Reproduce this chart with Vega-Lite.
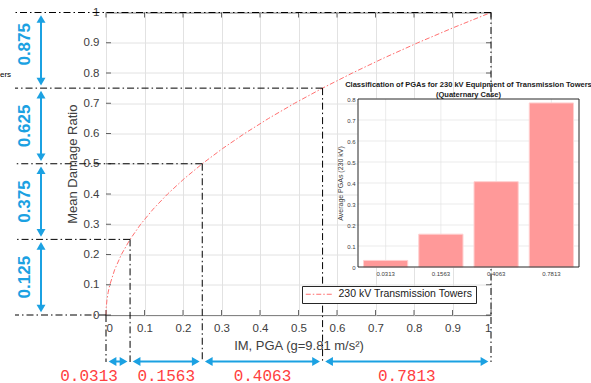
{
  "$schema": "https://vega.github.io/schema/vega-lite/v6.json",
  "width": 385,
  "height": 302.5,
  "autosize": {"type": "none"},
  "padding": {"left": 106, "top": 12.5, "right": 100, "bottom": 68},
  "background": "white",
  "config": {
    "font": "Liberation Sans",
    "view": {"stroke": "#262626", "strokeWidth": 1}
  },
  "datasets": {
    "curve": [
      {"pga": 0, "dr": 0}, {"pga": 0.000625, "dr": 0.025}, {"pga": 0.0025, "dr": 0.05}, {"pga": 0.005625, "dr": 0.075},
      {"pga": 0.01, "dr": 0.1}, {"pga": 0.0225, "dr": 0.15}, {"pga": 0.04, "dr": 0.2}, {"pga": 0.0625, "dr": 0.25},
      {"pga": 0.09, "dr": 0.3}, {"pga": 0.1225, "dr": 0.35}, {"pga": 0.16, "dr": 0.4}, {"pga": 0.2025, "dr": 0.45},
      {"pga": 0.25, "dr": 0.5}, {"pga": 0.3025, "dr": 0.55}, {"pga": 0.36, "dr": 0.6}, {"pga": 0.4225, "dr": 0.65},
      {"pga": 0.49, "dr": 0.7}, {"pga": 0.5625, "dr": 0.75}, {"pga": 0.64, "dr": 0.8}, {"pga": 0.7225, "dr": 0.85},
      {"pga": 0.81, "dr": 0.9}, {"pga": 0.9025, "dr": 0.95}, {"pga": 1, "dr": 1}
    ],
    "tickvals": [
      {"t": 0}, {"t": 0.1}, {"t": 0.2}, {"t": 0.3}, {"t": 0.4}, {"t": 0.5},
      {"t": 0.6}, {"t": 0.7}, {"t": 0.8}, {"t": 0.9}, {"t": 1}
    ],
    "drClasses": [
      {"lo": 0, "hi": 0.25, "mid": 0.125},
      {"lo": 0.25, "hi": 0.5, "mid": 0.375},
      {"lo": 0.5, "hi": 0.75, "mid": 0.625},
      {"lo": 0.75, "hi": 1, "mid": 0.875}
    ],
    "pgaClasses": [
      {"lo": 0, "hi": 0.0625, "mid": 0.0313},
      {"lo": 0.0625, "hi": 0.25, "mid": 0.1563},
      {"lo": 0.25, "hi": 0.5625, "mid": 0.4063},
      {"lo": 0.5625, "hi": 1, "mid": 0.7813}
    ],
    "classBounds": [
      {"pga": 0, "dr": 0}, {"pga": 0.0625, "dr": 0.25}, {"pga": 0.25, "dr": 0.5},
      {"pga": 0.5625, "dr": 0.75}, {"pga": 1, "dr": 1}
    ],
    "single": [{"n": 1}]
  },
  "layer": [
    {
      "layer": [
        {
          "data": {"name": "curve"},
          "mark": {"type": "line", "strokeDash": [5, 2, 1.5, 2], "strokeWidth": 1},
          "encoding": {
            "x": {"field": "pga", "type": "quantitative", "scale": {"domain": [0, 1], "nice": false, "zero": false},
              "axis": {"values": [0, 0.1, 0.2, 0.3, 0.4, 0.5, 0.6, 0.7, 0.8, 0.9, 1], "format": "~g", "grid": true, "gridColor": "#e2e2e2",
                "domain": false, "ticks": false, "labelPadding": 7, "labelFontSize": 11.5, "labelColor": "#404040", "labelOverlap": false,
                "title": "IM, PGA (g=9.81 m/s²)", "titleFontSize": 13, "titleFontWeight": "normal", "titleColor": "#404040", "titlePadding": 6}},
            "y": {"field": "dr", "type": "quantitative", "scale": {"domain": [0, 1], "nice": false, "zero": false},
              "axis": {"values": [0, 0.1, 0.2, 0.3, 0.4, 0.5, 0.6, 0.7, 0.8, 0.9, 1], "format": "~g", "grid": true, "gridColor": "#e2e2e2",
                "domain": false, "ticks": false, "labelPadding": 7, "labelFontSize": 11.5, "labelColor": "#404040", "labelOverlap": false,
                "title": "Mean Damage Ratio", "titleFontSize": 13, "titleFontWeight": "normal", "titleColor": "#404040", "titlePadding": 4}},
            "stroke": {"datum": "230 kV Transmission Towers", "type": "nominal", "scale": {"range": ["#ff7070"]},
              "legend": {"title": null, "orient": "none", "legendX": 196, "legendY": 273.5, "fillColor": "white", "strokeColor": "#262626",
                "padding": 3, "symbolType": "M-1,0H5", "symbolSize": 81, "symbolStrokeWidth": 1, "symbolDash": [5, 2, 1.5, 2],
                "labelFontSize": 10.5, "labelColor": "#1a1a1a", "labelOffset": 23, "labelFont": "Liberation Sans"}}
          }
        },
        {
          "data": {"name": "tickvals"},
          "mark": {"type": "tick", "orient": "vertical", "size": 5, "thickness": 1, "color": "#262626", "yOffset": -2.5},
          "encoding": {
            "x": {"field": "t", "type": "quantitative", "scale": {"domain": [0, 1], "nice": false, "zero": false},
              "axis": {"values": [0, 0.1, 0.2, 0.3, 0.4, 0.5, 0.6, 0.7, 0.8, 0.9, 1], "format": "~g", "grid": true, "gridColor": "#e2e2e2",
                "domain": false, "ticks": false, "labelPadding": 7, "labelFontSize": 11.5, "labelColor": "#404040", "labelOverlap": false,
                "title": "IM, PGA (g=9.81 m/s²)", "titleFontSize": 13, "titleFontWeight": "normal", "titleColor": "#404040", "titlePadding": 6}},
            "y": {"datum": 0, "type": "quantitative", "scale": {"domain": [0, 1], "nice": false, "zero": false},
              "axis": {"values": [0, 0.1, 0.2, 0.3, 0.4, 0.5, 0.6, 0.7, 0.8, 0.9, 1], "format": "~g", "grid": true, "gridColor": "#e2e2e2",
                "domain": false, "ticks": false, "labelPadding": 7, "labelFontSize": 11.5, "labelColor": "#404040", "labelOverlap": false,
                "title": "Mean Damage Ratio", "titleFontSize": 13, "titleFontWeight": "normal", "titleColor": "#404040", "titlePadding": 4}}
          }
        },
        {
          "data": {"name": "tickvals"},
          "mark": {"type": "tick", "orient": "vertical", "size": 5, "thickness": 1, "color": "#262626", "yOffset": 2.5},
          "encoding": {
            "x": {"field": "t", "type": "quantitative", "scale": {"domain": [0, 1], "nice": false, "zero": false},
              "axis": {"values": [0, 0.1, 0.2, 0.3, 0.4, 0.5, 0.6, 0.7, 0.8, 0.9, 1], "format": "~g", "grid": true, "gridColor": "#e2e2e2",
                "domain": false, "ticks": false, "labelPadding": 7, "labelFontSize": 11.5, "labelColor": "#404040", "labelOverlap": false,
                "title": "IM, PGA (g=9.81 m/s²)", "titleFontSize": 13, "titleFontWeight": "normal", "titleColor": "#404040", "titlePadding": 6}},
            "y": {"datum": 1, "type": "quantitative", "scale": {"domain": [0, 1], "nice": false, "zero": false},
              "axis": {"values": [0, 0.1, 0.2, 0.3, 0.4, 0.5, 0.6, 0.7, 0.8, 0.9, 1], "format": "~g", "grid": true, "gridColor": "#e2e2e2",
                "domain": false, "ticks": false, "labelPadding": 7, "labelFontSize": 11.5, "labelColor": "#404040", "labelOverlap": false,
                "title": "Mean Damage Ratio", "titleFontSize": 13, "titleFontWeight": "normal", "titleColor": "#404040", "titlePadding": 4}}
          }
        },
        {
          "data": {"name": "tickvals"},
          "mark": {"type": "tick", "orient": "horizontal", "size": 5, "thickness": 1, "color": "#262626", "xOffset": 2.5},
          "encoding": {
            "y": {"field": "t", "type": "quantitative", "scale": {"domain": [0, 1], "nice": false, "zero": false},
              "axis": {"values": [0, 0.1, 0.2, 0.3, 0.4, 0.5, 0.6, 0.7, 0.8, 0.9, 1], "format": "~g", "grid": true, "gridColor": "#e2e2e2",
                "domain": false, "ticks": false, "labelPadding": 7, "labelFontSize": 11.5, "labelColor": "#404040", "labelOverlap": false,
                "title": "Mean Damage Ratio", "titleFontSize": 13, "titleFontWeight": "normal", "titleColor": "#404040", "titlePadding": 4}},
            "x": {"datum": 0, "type": "quantitative", "scale": {"domain": [0, 1], "nice": false, "zero": false},
              "axis": {"values": [0, 0.1, 0.2, 0.3, 0.4, 0.5, 0.6, 0.7, 0.8, 0.9, 1], "format": "~g", "grid": true, "gridColor": "#e2e2e2",
                "domain": false, "ticks": false, "labelPadding": 7, "labelFontSize": 11.5, "labelColor": "#404040", "labelOverlap": false,
                "title": "IM, PGA (g=9.81 m/s²)", "titleFontSize": 13, "titleFontWeight": "normal", "titleColor": "#404040", "titlePadding": 6}}
          }
        },
        {
          "data": {"name": "tickvals"},
          "mark": {"type": "tick", "orient": "horizontal", "size": 5, "thickness": 1, "color": "#262626", "xOffset": -2.5},
          "encoding": {
            "y": {"field": "t", "type": "quantitative", "scale": {"domain": [0, 1], "nice": false, "zero": false},
              "axis": {"values": [0, 0.1, 0.2, 0.3, 0.4, 0.5, 0.6, 0.7, 0.8, 0.9, 1], "format": "~g", "grid": true, "gridColor": "#e2e2e2",
                "domain": false, "ticks": false, "labelPadding": 7, "labelFontSize": 11.5, "labelColor": "#404040", "labelOverlap": false,
                "title": "Mean Damage Ratio", "titleFontSize": 13, "titleFontWeight": "normal", "titleColor": "#404040", "titlePadding": 4}},
            "x": {"datum": 1, "type": "quantitative", "scale": {"domain": [0, 1], "nice": false, "zero": false},
              "axis": {"values": [0, 0.1, 0.2, 0.3, 0.4, 0.5, 0.6, 0.7, 0.8, 0.9, 1], "format": "~g", "grid": true, "gridColor": "#e2e2e2",
                "domain": false, "ticks": false, "labelPadding": 7, "labelFontSize": 11.5, "labelColor": "#404040", "labelOverlap": false,
                "title": "IM, PGA (g=9.81 m/s²)", "titleFontSize": 13, "titleFontWeight": "normal", "titleColor": "#404040", "titlePadding": 6}}
          }
        },
        {
          "data": {"name": "classBounds"},
          "mark": {"type": "rule", "stroke": "#000000", "strokeWidth": 1, "strokeDash": [7, 3, 1.5, 3]},
          "encoding": {
            "x": {"field": "pga", "type": "quantitative", "scale": {"domain": [0, 1], "nice": false, "zero": false},
              "axis": {"values": [0, 0.1, 0.2, 0.3, 0.4, 0.5, 0.6, 0.7, 0.8, 0.9, 1], "format": "~g", "grid": true, "gridColor": "#e2e2e2",
                "domain": false, "ticks": false, "labelPadding": 7, "labelFontSize": 11.5, "labelColor": "#404040", "labelOverlap": false,
                "title": "IM, PGA (g=9.81 m/s²)", "titleFontSize": 13, "titleFontWeight": "normal", "titleColor": "#404040", "titlePadding": 6}},
            "x2": {"datum": -0.2364},
            "y": {"field": "dr", "type": "quantitative", "scale": {"domain": [0, 1], "nice": false, "zero": false},
              "axis": {"values": [0, 0.1, 0.2, 0.3, 0.4, 0.5, 0.6, 0.7, 0.8, 0.9, 1], "format": "~g", "grid": true, "gridColor": "#e2e2e2",
                "domain": false, "ticks": false, "labelPadding": 7, "labelFontSize": 11.5, "labelColor": "#404040", "labelOverlap": false,
                "title": "Mean Damage Ratio", "titleFontSize": 13, "titleFontWeight": "normal", "titleColor": "#404040", "titlePadding": 4}}
          }
        },
        {
          "data": {"name": "classBounds"},
          "mark": {"type": "rule", "stroke": "#000000", "strokeWidth": 1, "strokeDash": [7, 3, 1.5, 3]},
          "encoding": {
            "x": {"field": "pga", "type": "quantitative", "scale": {"domain": [0, 1], "nice": false, "zero": false},
              "axis": {"values": [0, 0.1, 0.2, 0.3, 0.4, 0.5, 0.6, 0.7, 0.8, 0.9, 1], "format": "~g", "grid": true, "gridColor": "#e2e2e2",
                "domain": false, "ticks": false, "labelPadding": 7, "labelFontSize": 11.5, "labelColor": "#404040", "labelOverlap": false,
                "title": "IM, PGA (g=9.81 m/s²)", "titleFontSize": 13, "titleFontWeight": "normal", "titleColor": "#404040", "titlePadding": 6}},
            "y": {"field": "dr", "type": "quantitative", "scale": {"domain": [0, 1], "nice": false, "zero": false},
              "axis": {"values": [0, 0.1, 0.2, 0.3, 0.4, 0.5, 0.6, 0.7, 0.8, 0.9, 1], "format": "~g", "grid": true, "gridColor": "#e2e2e2",
                "domain": false, "ticks": false, "labelPadding": 7, "labelFontSize": 11.5, "labelColor": "#404040", "labelOverlap": false,
                "title": "Mean Damage Ratio", "titleFontSize": 13, "titleFontWeight": "normal", "titleColor": "#404040", "titlePadding": 4}},
            "y2": {"datum": -0.1554}
          }
        },
        {
          "data": {"name": "drClasses"},
          "mark": {"type": "rule", "stroke": "#1ba1e2", "strokeWidth": 2, "yOffset": -5, "y2Offset": 5},
          "encoding": {
            "x": {"datum": -0.1688, "type": "quantitative", "scale": {"domain": [0, 1], "nice": false, "zero": false},
              "axis": {"values": [0, 0.1, 0.2, 0.3, 0.4, 0.5, 0.6, 0.7, 0.8, 0.9, 1], "format": "~g", "grid": true, "gridColor": "#e2e2e2",
                "domain": false, "ticks": false, "labelPadding": 7, "labelFontSize": 11.5, "labelColor": "#404040", "labelOverlap": false,
                "title": "IM, PGA (g=9.81 m/s²)", "titleFontSize": 13, "titleFontWeight": "normal", "titleColor": "#404040", "titlePadding": 6}},
            "y": {"field": "lo", "type": "quantitative", "scale": {"domain": [0, 1], "nice": false, "zero": false},
              "axis": {"values": [0, 0.1, 0.2, 0.3, 0.4, 0.5, 0.6, 0.7, 0.8, 0.9, 1], "format": "~g", "grid": true, "gridColor": "#e2e2e2",
                "domain": false, "ticks": false, "labelPadding": 7, "labelFontSize": 11.5, "labelColor": "#404040", "labelOverlap": false,
                "title": "Mean Damage Ratio", "titleFontSize": 13, "titleFontWeight": "normal", "titleColor": "#404040", "titlePadding": 4}},
            "y2": {"field": "hi"}
          }
        },
        {
          "data": {"name": "drClasses"},
          "mark": {"type": "point", "shape": "triangle-up", "filled": true, "size": 80, "fill": "#1ba1e2", "opacity": 1, "strokeWidth": 0, "yOffset": 6.5},
          "encoding": {
            "x": {"datum": -0.1688, "type": "quantitative", "scale": {"domain": [0, 1], "nice": false, "zero": false},
              "axis": {"values": [0, 0.1, 0.2, 0.3, 0.4, 0.5, 0.6, 0.7, 0.8, 0.9, 1], "format": "~g", "grid": true, "gridColor": "#e2e2e2",
                "domain": false, "ticks": false, "labelPadding": 7, "labelFontSize": 11.5, "labelColor": "#404040", "labelOverlap": false,
                "title": "IM, PGA (g=9.81 m/s²)", "titleFontSize": 13, "titleFontWeight": "normal", "titleColor": "#404040", "titlePadding": 6}},
            "y": {"field": "hi", "type": "quantitative", "scale": {"domain": [0, 1], "nice": false, "zero": false},
              "axis": {"values": [0, 0.1, 0.2, 0.3, 0.4, 0.5, 0.6, 0.7, 0.8, 0.9, 1], "format": "~g", "grid": true, "gridColor": "#e2e2e2",
                "domain": false, "ticks": false, "labelPadding": 7, "labelFontSize": 11.5, "labelColor": "#404040", "labelOverlap": false,
                "title": "Mean Damage Ratio", "titleFontSize": 13, "titleFontWeight": "normal", "titleColor": "#404040", "titlePadding": 4}}
          }
        },
        {
          "data": {"name": "drClasses"},
          "mark": {"type": "point", "shape": "triangle-down", "filled": true, "size": 80, "fill": "#1ba1e2", "opacity": 1, "strokeWidth": 0, "yOffset": -6.5},
          "encoding": {
            "x": {"datum": -0.1688, "type": "quantitative", "scale": {"domain": [0, 1], "nice": false, "zero": false},
              "axis": {"values": [0, 0.1, 0.2, 0.3, 0.4, 0.5, 0.6, 0.7, 0.8, 0.9, 1], "format": "~g", "grid": true, "gridColor": "#e2e2e2",
                "domain": false, "ticks": false, "labelPadding": 7, "labelFontSize": 11.5, "labelColor": "#404040", "labelOverlap": false,
                "title": "IM, PGA (g=9.81 m/s²)", "titleFontSize": 13, "titleFontWeight": "normal", "titleColor": "#404040", "titlePadding": 6}},
            "y": {"field": "lo", "type": "quantitative", "scale": {"domain": [0, 1], "nice": false, "zero": false},
              "axis": {"values": [0, 0.1, 0.2, 0.3, 0.4, 0.5, 0.6, 0.7, 0.8, 0.9, 1], "format": "~g", "grid": true, "gridColor": "#e2e2e2",
                "domain": false, "ticks": false, "labelPadding": 7, "labelFontSize": 11.5, "labelColor": "#404040", "labelOverlap": false,
                "title": "Mean Damage Ratio", "titleFontSize": 13, "titleFontWeight": "normal", "titleColor": "#404040", "titlePadding": 4}}
          }
        },
        {
          "data": {"name": "drClasses"},
          "mark": {"type": "text", "angle": 270, "fontSize": 17, "fontWeight": "bold", "fill": "#1ba1e2", "align": "center", "baseline": "middle",
            "yOffset": {"expr": "datum.mid > 0.8 ? -6 : 0"}},
          "encoding": {
            "x": {"datum": -0.2104, "type": "quantitative", "scale": {"domain": [0, 1], "nice": false, "zero": false},
              "axis": {"values": [0, 0.1, 0.2, 0.3, 0.4, 0.5, 0.6, 0.7, 0.8, 0.9, 1], "format": "~g", "grid": true, "gridColor": "#e2e2e2",
                "domain": false, "ticks": false, "labelPadding": 7, "labelFontSize": 11.5, "labelColor": "#404040", "labelOverlap": false,
                "title": "IM, PGA (g=9.81 m/s²)", "titleFontSize": 13, "titleFontWeight": "normal", "titleColor": "#404040", "titlePadding": 6}},
            "y": {"field": "mid", "type": "quantitative", "scale": {"domain": [0, 1], "nice": false, "zero": false},
              "axis": {"values": [0, 0.1, 0.2, 0.3, 0.4, 0.5, 0.6, 0.7, 0.8, 0.9, 1], "format": "~g", "grid": true, "gridColor": "#e2e2e2",
                "domain": false, "ticks": false, "labelPadding": 7, "labelFontSize": 11.5, "labelColor": "#404040", "labelOverlap": false,
                "title": "Mean Damage Ratio", "titleFontSize": 13, "titleFontWeight": "normal", "titleColor": "#404040", "titlePadding": 4}},
            "text": {"field": "mid", "type": "quantitative", "format": ".3f"}
          }
        },
        {
          "data": {"name": "pgaClasses"},
          "mark": {"type": "rule", "stroke": "#1ba1e2", "strokeWidth": 2, "xOffset": 5, "x2Offset": -5},
          "encoding": {
            "x": {"field": "lo", "type": "quantitative", "scale": {"domain": [0, 1], "nice": false, "zero": false},
              "axis": {"values": [0, 0.1, 0.2, 0.3, 0.4, 0.5, 0.6, 0.7, 0.8, 0.9, 1], "format": "~g", "grid": true, "gridColor": "#e2e2e2",
                "domain": false, "ticks": false, "labelPadding": 7, "labelFontSize": 11.5, "labelColor": "#404040", "labelOverlap": false,
                "title": "IM, PGA (g=9.81 m/s²)", "titleFontSize": 13, "titleFontWeight": "normal", "titleColor": "#404040", "titlePadding": 6}},
            "x2": {"field": "hi"},
            "y": {"datum": -0.1537, "type": "quantitative", "scale": {"domain": [0, 1], "nice": false, "zero": false},
              "axis": {"values": [0, 0.1, 0.2, 0.3, 0.4, 0.5, 0.6, 0.7, 0.8, 0.9, 1], "format": "~g", "grid": true, "gridColor": "#e2e2e2",
                "domain": false, "ticks": false, "labelPadding": 7, "labelFontSize": 11.5, "labelColor": "#404040", "labelOverlap": false,
                "title": "Mean Damage Ratio", "titleFontSize": 13, "titleFontWeight": "normal", "titleColor": "#404040", "titlePadding": 4}}
          }
        },
        {
          "data": {"name": "pgaClasses"},
          "mark": {"type": "point", "shape": "triangle-left", "filled": true, "size": 80, "fill": "#1ba1e2", "opacity": 1, "strokeWidth": 0, "xOffset": 6.5},
          "encoding": {
            "x": {"field": "lo", "type": "quantitative", "scale": {"domain": [0, 1], "nice": false, "zero": false},
              "axis": {"values": [0, 0.1, 0.2, 0.3, 0.4, 0.5, 0.6, 0.7, 0.8, 0.9, 1], "format": "~g", "grid": true, "gridColor": "#e2e2e2",
                "domain": false, "ticks": false, "labelPadding": 7, "labelFontSize": 11.5, "labelColor": "#404040", "labelOverlap": false,
                "title": "IM, PGA (g=9.81 m/s²)", "titleFontSize": 13, "titleFontWeight": "normal", "titleColor": "#404040", "titlePadding": 6}},
            "y": {"datum": -0.1537, "type": "quantitative", "scale": {"domain": [0, 1], "nice": false, "zero": false},
              "axis": {"values": [0, 0.1, 0.2, 0.3, 0.4, 0.5, 0.6, 0.7, 0.8, 0.9, 1], "format": "~g", "grid": true, "gridColor": "#e2e2e2",
                "domain": false, "ticks": false, "labelPadding": 7, "labelFontSize": 11.5, "labelColor": "#404040", "labelOverlap": false,
                "title": "Mean Damage Ratio", "titleFontSize": 13, "titleFontWeight": "normal", "titleColor": "#404040", "titlePadding": 4}}
          }
        },
        {
          "data": {"name": "pgaClasses"},
          "mark": {"type": "point", "shape": "triangle-right", "filled": true, "size": 80, "fill": "#1ba1e2", "opacity": 1, "strokeWidth": 0, "xOffset": -6.5},
          "encoding": {
            "x": {"field": "hi", "type": "quantitative", "scale": {"domain": [0, 1], "nice": false, "zero": false},
              "axis": {"values": [0, 0.1, 0.2, 0.3, 0.4, 0.5, 0.6, 0.7, 0.8, 0.9, 1], "format": "~g", "grid": true, "gridColor": "#e2e2e2",
                "domain": false, "ticks": false, "labelPadding": 7, "labelFontSize": 11.5, "labelColor": "#404040", "labelOverlap": false,
                "title": "IM, PGA (g=9.81 m/s²)", "titleFontSize": 13, "titleFontWeight": "normal", "titleColor": "#404040", "titlePadding": 6}},
            "y": {"datum": -0.1537, "type": "quantitative", "scale": {"domain": [0, 1], "nice": false, "zero": false},
              "axis": {"values": [0, 0.1, 0.2, 0.3, 0.4, 0.5, 0.6, 0.7, 0.8, 0.9, 1], "format": "~g", "grid": true, "gridColor": "#e2e2e2",
                "domain": false, "ticks": false, "labelPadding": 7, "labelFontSize": 11.5, "labelColor": "#404040", "labelOverlap": false,
                "title": "Mean Damage Ratio", "titleFontSize": 13, "titleFontWeight": "normal", "titleColor": "#404040", "titlePadding": 4}}
          }
        },
        {
          "data": {"name": "pgaClasses"},
          "mark": {"type": "text", "font": "Liberation Mono", "fontSize": 16, "fill": "#ff4040", "align": "center", "baseline": "middle",
            "dx": {"expr": "datum.mid < 0.05 ? -29 : 0"}},
          "encoding": {
            "x": {"field": "mid", "type": "quantitative", "scale": {"domain": [0, 1], "nice": false, "zero": false},
              "axis": {"values": [0, 0.1, 0.2, 0.3, 0.4, 0.5, 0.6, 0.7, 0.8, 0.9, 1], "format": "~g", "grid": true, "gridColor": "#e2e2e2",
                "domain": false, "ticks": false, "labelPadding": 7, "labelFontSize": 11.5, "labelColor": "#404040", "labelOverlap": false,
                "title": "IM, PGA (g=9.81 m/s²)", "titleFontSize": 13, "titleFontWeight": "normal", "titleColor": "#404040", "titlePadding": 6}},
            "y": {"datum": -0.2, "type": "quantitative", "scale": {"domain": [0, 1], "nice": false, "zero": false},
              "axis": {"values": [0, 0.1, 0.2, 0.3, 0.4, 0.5, 0.6, 0.7, 0.8, 0.9, 1], "format": "~g", "grid": true, "gridColor": "#e2e2e2",
                "domain": false, "ticks": false, "labelPadding": 7, "labelFontSize": 11.5, "labelColor": "#404040", "labelOverlap": false,
                "title": "Mean Damage Ratio", "titleFontSize": 13, "titleFontWeight": "normal", "titleColor": "#404040", "titlePadding": 4}},
            "text": {"field": "mid", "type": "quantitative", "format": ".4f"}
          }
        },
        {
          "data": {"values": [{"note": "ers"}]},
          "mark": {"type": "text", "fontSize": 8, "fill": "#000000", "align": "left", "baseline": "middle"},
          "encoding": {
            "x": {"datum": -0.2753, "type": "quantitative", "scale": {"domain": [0, 1], "nice": false, "zero": false},
              "axis": {"values": [0, 0.1, 0.2, 0.3, 0.4, 0.5, 0.6, 0.7, 0.8, 0.9, 1], "format": "~g", "grid": true, "gridColor": "#e2e2e2",
                "domain": false, "ticks": false, "labelPadding": 7, "labelFontSize": 11.5, "labelColor": "#404040", "labelOverlap": false,
                "title": "IM, PGA (g=9.81 m/s²)", "titleFontSize": 13, "titleFontWeight": "normal", "titleColor": "#404040", "titlePadding": 6}},
            "y": {"datum": 0.7934, "type": "quantitative", "scale": {"domain": [0, 1], "nice": false, "zero": false},
              "axis": {"values": [0, 0.1, 0.2, 0.3, 0.4, 0.5, 0.6, 0.7, 0.8, 0.9, 1], "format": "~g", "grid": true, "gridColor": "#e2e2e2",
                "domain": false, "ticks": false, "labelPadding": 7, "labelFontSize": 11.5, "labelColor": "#404040", "labelOverlap": false,
                "title": "Mean Damage Ratio", "titleFontSize": 13, "titleFontWeight": "normal", "titleColor": "#404040", "titlePadding": 4}},
            "text": {"field": "note", "type": "nominal"}
          }
        }
      ]
    },
    {
      "layer": [
        {
          "data": {"name": "single"},
          "mark": {"type": "rect", "width": 221, "height": 168, "fill": "white", "stroke": "white", "strokeWidth": 1},
          "encoding": {
            "x": {"datum": 0.5, "type": "quantitative", "scale": {"domain": [0, 1], "range": [252, 473], "nice": false, "zero": false}, "axis": null},
            "y": {"datum": 0.4, "type": "quantitative", "scale": {"domain": [0, 0.8], "range": [254.5, 86.5], "nice": false, "zero": false},
              "axis": {"orient": "left", "offset": -252, "values": [0, 0.1, 0.2, 0.3, 0.4, 0.5, 0.6, 0.7, 0.8], "format": "~g", "labelOverlap": false,
                "title": "Average PGAs (230 kV)", "titleFontSize": 7, "titleFontWeight": "normal", "titleColor": "#404040", "titlePadding": 3,
                "labelFontSize": 6, "labelColor": "#404040", "labelPadding": 3, "ticks": false, "domain": false, "grid": false, "zindex": 1}}
          }
        },
        {
          "data": {"name": "tickvals"},
          "transform": [{"filter": "datum.t > 0.05 && datum.t < 0.75"}],
          "mark": {"type": "tick", "orient": "horizontal", "size": 221, "thickness": 1, "color": "#e2e2e2"},
          "encoding": {
            "x": {"datum": 0.5, "type": "quantitative", "scale": {"domain": [0, 1], "range": [252, 473], "nice": false, "zero": false}, "axis": null},
            "y": {"field": "t", "type": "quantitative", "scale": {"domain": [0, 0.8], "range": [254.5, 86.5], "nice": false, "zero": false},
              "axis": {"orient": "left", "offset": -252, "values": [0, 0.1, 0.2, 0.3, 0.4, 0.5, 0.6, 0.7, 0.8], "format": "~g", "labelOverlap": false,
                "title": "Average PGAs (230 kV)", "titleFontSize": 7, "titleFontWeight": "normal", "titleColor": "#404040", "titlePadding": 3,
                "labelFontSize": 6, "labelColor": "#404040", "labelPadding": 3, "ticks": false, "domain": false, "grid": false, "zindex": 1}}
          }
        },
        {
          "data": {"name": "pgaClasses"},
          "mark": {"type": "tick", "orient": "vertical", "size": 168, "thickness": 1, "color": "#e2e2e2"},
          "encoding": {
            "x": {"field": "mid", "type": "ordinal", "scale": {"type": "band", "range": [252, 473], "paddingInner": 0.2, "paddingOuter": 0.1}, "axis": null},
            "y": {"datum": 0.4, "type": "quantitative", "scale": {"domain": [0, 0.8], "range": [254.5, 86.5], "nice": false, "zero": false},
              "axis": {"orient": "left", "offset": -252, "values": [0, 0.1, 0.2, 0.3, 0.4, 0.5, 0.6, 0.7, 0.8], "format": "~g", "labelOverlap": false,
                "title": "Average PGAs (230 kV)", "titleFontSize": 7, "titleFontWeight": "normal", "titleColor": "#404040", "titlePadding": 3,
                "labelFontSize": 6, "labelColor": "#404040", "labelPadding": 3, "ticks": false, "domain": false, "grid": false, "zindex": 1}}
          }
        },
        {
          "data": {"name": "pgaClasses"},
          "mark": {"type": "bar", "fill": "#ff9999", "stroke": "#ffcfcf", "strokeWidth": 1},
          "encoding": {
            "x": {"field": "mid", "type": "ordinal", "scale": {"type": "band", "range": [252, 473], "paddingInner": 0.2, "paddingOuter": 0.1},
              "axis": {"orient": "bottom", "offset": -48, "title": null, "labelFontSize": 6, "labelColor": "#404040", "labelAngle": 0,
                "labelPadding": 3, "ticks": false, "domain": false, "grid": false, "zindex": 1}},
            "y": {"field": "mid", "type": "quantitative", "stack": null, "scale": {"domain": [0, 0.8], "range": [254.5, 86.5], "nice": false, "zero": false},
              "axis": {"orient": "left", "offset": -252, "values": [0, 0.1, 0.2, 0.3, 0.4, 0.5, 0.6, 0.7, 0.8], "format": "~g", "labelOverlap": false,
                "title": "Average PGAs (230 kV)", "titleFontSize": 7, "titleFontWeight": "normal", "titleColor": "#404040", "titlePadding": 3,
                "labelFontSize": 6, "labelColor": "#404040", "labelPadding": 3, "ticks": false, "domain": false, "grid": false, "zindex": 1}}
          }
        },
        {
          "data": {"name": "single"},
          "mark": {"type": "rect", "width": 221, "height": 168, "fill": "transparent", "stroke": "#262626", "strokeWidth": 1},
          "encoding": {
            "x": {"datum": 0.5, "type": "quantitative", "scale": {"domain": [0, 1], "range": [252, 473], "nice": false, "zero": false}, "axis": null},
            "y": {"datum": 0.4, "type": "quantitative", "scale": {"domain": [0, 0.8], "range": [254.5, 86.5], "nice": false, "zero": false},
              "axis": {"orient": "left", "offset": -252, "values": [0, 0.1, 0.2, 0.3, 0.4, 0.5, 0.6, 0.7, 0.8], "format": "~g", "labelOverlap": false,
                "title": "Average PGAs (230 kV)", "titleFontSize": 7, "titleFontWeight": "normal", "titleColor": "#404040", "titlePadding": 3,
                "labelFontSize": 6, "labelColor": "#404040", "labelPadding": 3, "ticks": false, "domain": false, "grid": false, "zindex": 1}}
          }
        },
        {
          "data": {"name": "single"},
          "mark": {"type": "text", "text": ["Classification of PGAs for 230 kV Equipment of Transmission Towers", "(Quaternary Case)"],
            "fontSize": 7.5, "fontWeight": "bold", "fill": "#1a1a1a", "align": "center", "baseline": "bottom", "lineHeight": 10, "dy": -10},
          "encoding": {
            "x": {"datum": 0.5, "type": "quantitative", "scale": {"domain": [0, 1], "range": [252, 473], "nice": false, "zero": false}, "axis": null},
            "y": {"datum": 0.8, "type": "quantitative", "scale": {"domain": [0, 0.8], "range": [254.5, 86.5], "nice": false, "zero": false},
              "axis": {"orient": "left", "offset": -252, "values": [0, 0.1, 0.2, 0.3, 0.4, 0.5, 0.6, 0.7, 0.8], "format": "~g", "labelOverlap": false,
                "title": "Average PGAs (230 kV)", "titleFontSize": 7, "titleFontWeight": "normal", "titleColor": "#404040", "titlePadding": 3,
                "labelFontSize": 6, "labelColor": "#404040", "labelPadding": 3, "ticks": false, "domain": false, "grid": false, "zindex": 1}}
          }
        }
      ],
      "resolve": {"scale": {"x": "independent"}, "axis": {"x": "independent"}}
    }
  ],
  "resolve": {"scale": {"x": "independent", "y": "independent"}, "axis": {"x": "independent", "y": "independent"}}
}
